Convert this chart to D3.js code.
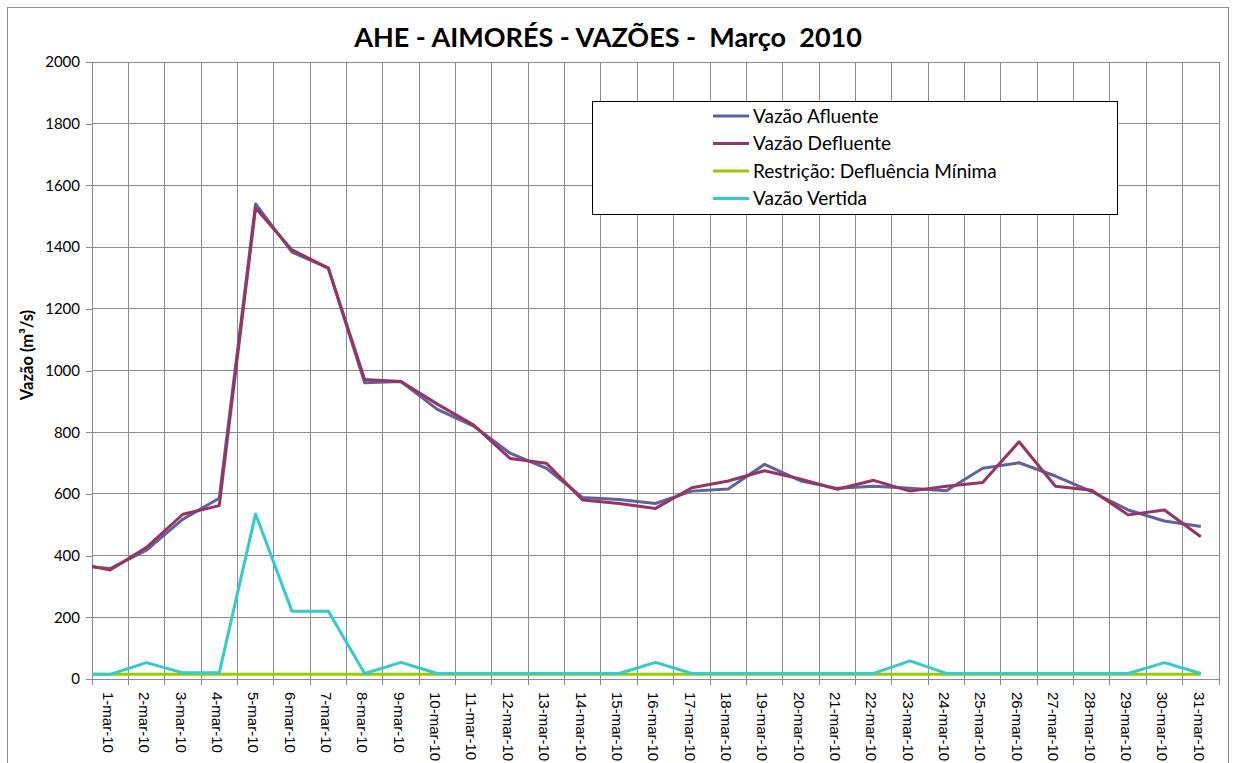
<!DOCTYPE html>
<html>
<head>
<meta charset="utf-8">
<script src="https://cdn.jsdelivr.net/npm/d3@7"></script>
<style>
  body { margin: 0; background: #fff; }
  .grid line { stroke: #8c8c8c; stroke-width: 1; shape-rendering: crispEdges; }
  .axis path, .axis line { stroke: #8c8c8c; shape-rendering: crispEdges; }
  .axis text { fill: #000; }
</style>
</head>
<body>
<div id="chart"></div>
<script>
// dias de marco/2010
const dias = ["1-mar-10","2-mar-10","3-mar-10","4-mar-10","5-mar-10","6-mar-10","7-mar-10","8-mar-10",
  "9-mar-10","10-mar-10","11-mar-10","12-mar-10","13-mar-10","14-mar-10","15-mar-10","16-mar-10",
  "17-mar-10","18-mar-10","19-mar-10","20-mar-10","21-mar-10","22-mar-10","23-mar-10","24-mar-10",
  "25-mar-10","26-mar-10","27-mar-10","28-mar-10","29-mar-10","30-mar-10","31-mar-10"];
const yTicks = [0,200,400,600,800,1000,1200,1400,1600,1800,2000];

const afluente = [358,418,518,586,1540,1384,1332,960,964,874,820,732,683,588,582,569,
  609,616,696,642,618,625,618,610,683,701,658,607,548,512,494];
const defluente = [353,427,534,562,1527,1391,1332,971,964,891,823,715,699,580,569,553,
  620,642,675,648,615,644,609,625,637,769,625,612,532,548,461];
const restricao = [15,15,15,15,15,15,15,15,15,15,15,15,15,15,15,15,
  15,15,15,15,15,15,15,15,15,15,15,15,15,15,15];
const vertida = [15,53,20,20,535,220,220,18,54,18,18,18,18,18,18,54,
  18,18,18,18,18,18,59,18,18,18,18,18,18,53,18];
// valor do dia anterior (28-fev), cortado na borda do grafico
const anterior = { afluente: 368, defluente: 378, restricao: 15, vertida: 15 };

const series = [
  { nome: "Vazão Afluente", chave: "afluente", valores: afluente, cor: "#62619f" },
  { nome: "Vazão Defluente", chave: "defluente", valores: defluente, cor: "#963462" },
  { nome: "Restrição: Defluência Mínima", chave: "restricao", valores: restricao, cor: "#99cc00" },
  { nome: "Vazão Vertida", chave: "vertida", valores: vertida, cor: "#33cccc" }
];

const w = 1236, h = 763;
const m = { left: 92, right: 1219, top: 62, bottom: 679 };

const svg = d3.select("#chart").append("svg")
    .attr("width", w)
    .attr("height", h);

// borda externa
svg.append("rect")
    .attr("x", 7.5).attr("y", 7.5)
    .attr("width", 1221).attr("height", 800)
    .attr("fill", "#fff")
    .attr("stroke", "#8c8c8c");

const xScale = d3.scaleBand().domain(dias).range([m.left, m.right]);
const yScale = d3.scaleLinear().domain([0, 2000]).range([m.bottom, m.top]);
const bw = xScale.bandwidth();
const cx = d => xScale(d) + bw / 2;

// grade horizontal
svg.append("g").attr("class", "grid")
    .selectAll("line")
    .data(yTicks)
    .enter().append("line")
    .attr("x1", m.left).attr("x2", m.right)
    .attr("y1", d => yScale(d)).attr("y2", d => yScale(d));

// grade vertical
svg.append("g").attr("class", "grid")
    .selectAll("line")
    .data(dias.slice(1).map(d => xScale(d)).concat([m.right]))
    .enter().append("line")
    .attr("x1", d => d).attr("x2", d => d)
    .attr("y1", m.top).attr("y2", m.bottom);

// eixo y
const yAxis = d3.axisLeft(yScale).tickValues(yTicks).tickSize(6).tickPadding(6).tickFormat(d3.format("d"));
svg.append("g")
    .attr("class", "axis")
    .attr("transform", "translate(" + m.left + ",0)")
    .call(yAxis)
    .call(g => g.select(".domain").attr("d", "M0," + m.top + "V" + m.bottom))
    .selectAll("text")
    .style("font-family", "Lato")
    .style("font-size", "15px");

// eixo x
svg.append("g")
    .attr("class", "axis")
    .selectAll("line")
    .data(dias.map(d => xScale(d)).concat([m.right]))
    .enter().append("line")
    .attr("x1", d => d).attr("x2", d => d)
    .attr("y1", m.bottom).attr("y2", m.bottom + 6);
svg.append("line")
    .attr("x1", m.left).attr("x2", m.right)
    .attr("y1", m.bottom).attr("y2", m.bottom)
    .attr("stroke", "#8c8c8c")
    .style("shape-rendering", "crispEdges");

svg.append("g")
    .selectAll("text")
    .data(dias)
    .enter().append("text")
    .attr("transform", d => "translate(" + (cx(d) - 2) + "," + (m.bottom + 13) + ") rotate(90)")
    .attr("dy", "0.35em")
    .style("font-family", "Liberation Sans")
    .style("font-size", "15px")
    .style("text-anchor", "start")
    .text(d => d);

// linhas
svg.append("clipPath").attr("id", "area")
    .append("rect")
    .attr("x", m.left).attr("y", 0)
    .attr("width", m.right - m.left + 10).attr("height", m.bottom + 10);

const linha = d3.line()
    .x(d => d[0])
    .y(d => yScale(d[1]));

series.forEach(function (s) {
    const pts = [[cx(dias[0]) - bw, anterior[s.chave]]]
        .concat(s.valores.map((v, i) => [cx(dias[i]), v]));
    svg.append("path")
        .attr("clip-path", "url(#area)")
        .attr("d", linha(pts))
        .attr("fill", "none")
        .attr("stroke", s.cor)
        .attr("stroke-width", 3)
        .attr("stroke-linejoin", "round");
});

// titulo
svg.append("text")
    .attr("x", 608).attr("y", 47)
    .style("text-anchor", "middle")
    .style("font-family", "Lato")
    .style("font-weight", "bold")
    .style("font-size", "27px")
    .style("white-space", "pre")
    .text("AHE - AIMORÉS - VAZÕES -  Março  2010");

// titulo do eixo y
svg.append("text")
    .attr("transform", "translate(33,355) rotate(-90)")
    .style("text-anchor", "middle")
    .style("font-family", "Lato")
    .style("font-weight", "bold")
    .style("font-size", "16.5px")
    .text("Vazão (m³/s)");

// legenda
const leg = svg.append("g").attr("transform", "translate(592,101)");
leg.append("rect")
    .attr("x", 0.5).attr("y", 0.5)
    .attr("width", 525).attr("height", 113)
    .attr("fill", "#fff")
    .attr("stroke", "#000");
const item = leg.selectAll("g.item")
    .data(series)
    .enter().append("g")
    .attr("class", "item")
    .attr("transform", (d, i) => "translate(0," + (15 + i * 27.5) + ")");
item.append("line")
    .attr("x1", 121).attr("x2", 157)
    .attr("y1", 0).attr("y2", 0)
    .attr("stroke", d => d.cor)
    .attr("stroke-width", 3);
item.append("text")
    .attr("x", 161).attr("y", 6.5)
    .style("font-family", "Lato")
    .style("font-size", "19px")
    .text(d => d.nome);
</script>
</body>
</html>
